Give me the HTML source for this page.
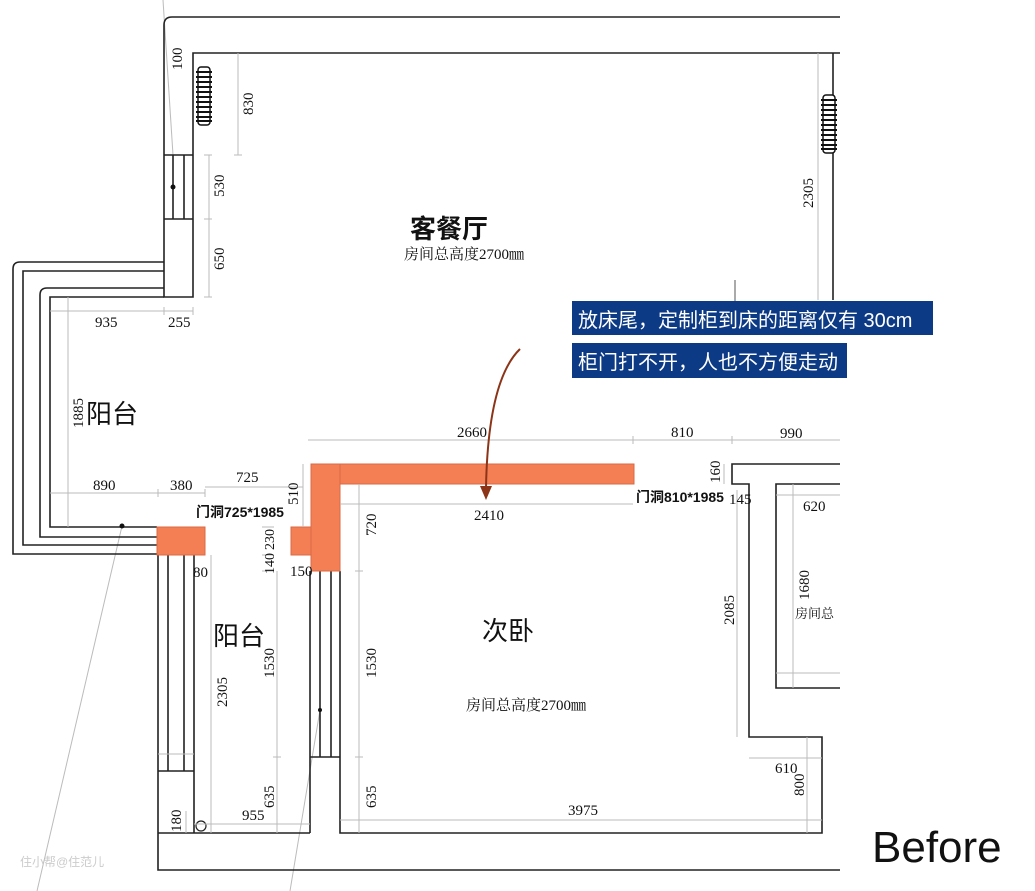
<!DOCTYPE html>
<html><head><meta charset="utf-8"><style>
html,body{margin:0;padding:0;background:#fff;}
svg{display:block;}
.w{stroke:#222;stroke-width:1.6;fill:none;}
.d{stroke:#bbb;stroke-width:1;fill:none;}
.n{font-family:"Liberation Serif","Noto Serif CJK SC",serif;font-size:15px;fill:#111;}
.c{font-family:"Liberation Sans","Noto Sans CJK SC",sans-serif;fill:#111;}
.o{fill:#f57f55;stroke:#d86a45;stroke-width:1;}
</style></head><body>
<svg width="1035" height="891" viewBox="0 0 1035 891" xmlns="http://www.w3.org/2000/svg">
<line class="d" x1="163" y1="0" x2="173" y2="155"/>
<line class="d" x1="122" y1="526" x2="37" y2="891"/>
<line class="d" x1="320" y1="710" x2="290" y2="891"/>

<path class="w" d="M840 17 H172 Q164 17 164 25 V297 H193 V53 H840"/>
<line class="w" x1="164" y1="155" x2="193" y2="155"/>
<line class="w" x1="164" y1="219" x2="193" y2="219"/>
<line class="w" x1="173" y1="155" x2="173" y2="219"/>
<line class="w" x1="184" y1="155" x2="184" y2="219"/>
<circle cx="173" cy="187" r="2.5" fill="#111"/>
<line class="w" x1="833" y1="53" x2="833" y2="300"/>
<line class="d" x1="818" y1="53" x2="818" y2="300"/>

<path class="w" d="M164 262 H20 Q13 262 13 269 V554 H157"/>
<path class="w" d="M164 271 H23 V545 H157"/>
<path class="w" d="M164 288 H47 Q40 288 40 295 V537 H157"/>
<path class="w" d="M164 297 H50 V527 H157"/>
<circle cx="122" cy="526" r="2.5" fill="#111"/>

<path class="w" d="M158 555 V870 H840"/>
<line class="w" x1="168" y1="555" x2="168" y2="771"/>
<line class="w" x1="184" y1="555" x2="184" y2="771"/>
<line class="w" x1="194" y1="555" x2="194" y2="833"/>
<line class="w" x1="158" y1="771" x2="194" y2="771"/>
<line class="d" x1="158" y1="754" x2="194" y2="754"/>
<line class="w" x1="158" y1="833" x2="310" y2="833"/>
<circle cx="201" cy="826" r="5" fill="none" stroke="#222" stroke-width="1.2"/>
<path class="w" d="M310 571 V833 M340 571 V833 H822 V737 H749 V484 H732 V464 H840"/>
<line class="w" x1="320" y1="571" x2="320" y2="757"/>
<line class="w" x1="331" y1="571" x2="331" y2="757"/>
<line class="w" x1="310" y1="757" x2="340" y2="757"/>
<circle cx="320" cy="710" r="2" fill="#111"/>
<path class="w" d="M840 484 H776 V688 H840"/>

<rect class="o" x="157" y="527" width="48" height="28"/>
<rect class="o" x="291" y="527" width="20" height="28"/>
<rect class="o" x="311" y="464" width="29" height="107"/>
<rect class="o" x="340" y="464" width="294" height="20"/>

<g fill="#fff" stroke="#111" stroke-width="1.5">
<rect x="198" y="67" width="12" height="58" rx="3"/>
<rect x="823" y="95" width="12" height="58" rx="3"/>
</g>
<g stroke="#111" stroke-width="2">
<path d="M196 72H212M196 77H212M196 82H212M196 87H212M196 92H212M196 97H212M196 102H212M196 107H212M196 112H212M196 117H212M196 121H212"/>
<path d="M821 100H837M821 105H837M821 110H837M821 115H837M821 120H837M821 125H837M821 130H837M821 135H837M821 140H837M821 145H837M821 149H837"/>
</g>

<g class="d">
<line x1="209" y1="155" x2="209" y2="297"/><path d="M204 155h8M204 219h8M204 297h8"/>
<line x1="238" y1="53" x2="238" y2="155"/><path d="M234 155h8"/>
<line x1="50" y1="311" x2="193" y2="311"/><path d="M164 307v8M193 307v8"/>
<line x1="68" y1="297" x2="68" y2="527"/>
<line x1="50" y1="493" x2="205" y2="493"/><path d="M158 489v8M205 489v8"/>
<line x1="205" y1="487" x2="303" y2="487"/>
<line x1="303" y1="464" x2="303" y2="527"/>
<path d="M262 527h12M262 555h12M262 571h12"/>
<line x1="211" y1="555" x2="211" y2="833"/>
<line x1="277" y1="571" x2="277" y2="833"/><path d="M273 757h8"/>
<line x1="359" y1="484" x2="359" y2="833"/><path d="M355 571h8M355 757h8"/>
<line x1="194" y1="824" x2="310" y2="824"/>
<line x1="186" y1="811" x2="186" y2="833"/>
<line x1="308" y1="440" x2="840" y2="440"/><path d="M633 436v8M732 436v8"/>
<line x1="340" y1="504" x2="633" y2="504"/>
<line x1="724" y1="464" x2="724" y2="484"/>
<line x1="737" y1="490" x2="737" y2="737"/>
<line x1="776" y1="495" x2="840" y2="495"/>
<line x1="793" y1="484" x2="793" y2="688"/>
<line x1="776" y1="673" x2="840" y2="673"/>
<line x1="749" y1="758" x2="822" y2="758"/>
<line x1="807" y1="737" x2="807" y2="833"/>
<line x1="340" y1="820" x2="822" y2="820"/>
</g>

<g class="n">
<text transform="translate(182,70) rotate(-90)">100</text>
<text transform="translate(253,115) rotate(-90)">830</text>
<text transform="translate(224,197) rotate(-90)">530</text>
<text transform="translate(224,270) rotate(-90)">650</text>
<text x="95" y="327">935</text>
<text x="168" y="327">255</text>
<text transform="translate(83,428) rotate(-90)">1885</text>
<text x="93" y="490">890</text>
<text x="170" y="490">380</text>
<text x="236" y="482">725</text>
<text transform="translate(298,505) rotate(-90)">510</text>
<text transform="translate(274,550) rotate(-90)" font-size="14">230</text>
<text transform="translate(274,574) rotate(-90)" font-size="14">140</text>
<text x="290" y="576">150</text>
<text x="193" y="577">80</text>
<text transform="translate(227,707) rotate(-90)">2305</text>
<text transform="translate(274,678) rotate(-90)">1530</text>
<text transform="translate(274,808) rotate(-90)">635</text>
<text transform="translate(376,536) rotate(-90)">720</text>
<text transform="translate(376,678) rotate(-90)">1530</text>
<text transform="translate(376,808) rotate(-90)">635</text>
<text x="242" y="820">955</text>
<text transform="translate(181,832) rotate(-90)">180</text>
<text x="457" y="437">2660</text>
<text x="671" y="437">810</text>
<text x="780" y="438">990</text>
<text x="474" y="520">2410</text>
<text transform="translate(720,483) rotate(-90)">160</text>
<text x="729" y="504">145</text>
<text x="803" y="511">620</text>
<text transform="translate(809,600) rotate(-90)">1680</text>
<text transform="translate(734,625) rotate(-90)">2085</text>
<text x="775" y="773">610</text>
<text transform="translate(804,796) rotate(-90)">800</text>
<text x="568" y="815">3975</text>
<text transform="translate(813,208) rotate(-90)">2305</text>
<text x="795" y="618" font-size="13">房间总</text>
</g>

<text class="c" x="410" y="238" font-size="26" font-weight="bold">客餐厅</text>
<text class="n" x="404" y="259" font-size="12">房间总高度2700㎜</text>
<text class="c" x="86" y="423" font-size="26">阳台</text>
<text class="c" x="213" y="645" font-size="26">阳台</text>
<text class="c" x="482" y="640" font-size="26">次卧</text>
<text class="n" x="466" y="710" font-size="12">房间总高度2700㎜</text>
<text class="c" x="196" y="517" font-size="14" font-weight="bold">门洞725*1985</text>
<text class="c" x="636" y="502" font-size="14" font-weight="bold">门洞810*1985</text>

<line x1="735" y1="280" x2="735" y2="301" stroke="#555" stroke-width="1"/>
<rect x="572" y="301" width="361" height="34" fill="#0c3a84"/>
<text x="578" y="327" font-size="20" fill="#fff" font-family="Liberation Sans,Noto Sans CJK SC,sans-serif">放床尾，定制柜到床的距离仅有 30cm</text>
<rect x="572" y="343" width="275" height="35" fill="#0c3a84"/>
<text x="578" y="369" font-size="20" fill="#fff" font-family="Liberation Sans,Noto Sans CJK SC,sans-serif">柜门打不开，人也不方便走动</text>
<path d="M520 349 Q488 380 486 488" stroke="#8b3417" stroke-width="2" fill="none"/>
<path d="M480 486 L486 500 L492 486 Z" fill="#8b3417"/>

<text x="20" y="866" font-size="12" fill="#ccc" font-family="Liberation Sans,Noto Sans CJK SC,sans-serif">住小帮@住范儿</text>
<text x="872" y="862" font-size="44" fill="#111" font-family="Liberation Sans,sans-serif">Before</text>
</svg>
</body></html>
